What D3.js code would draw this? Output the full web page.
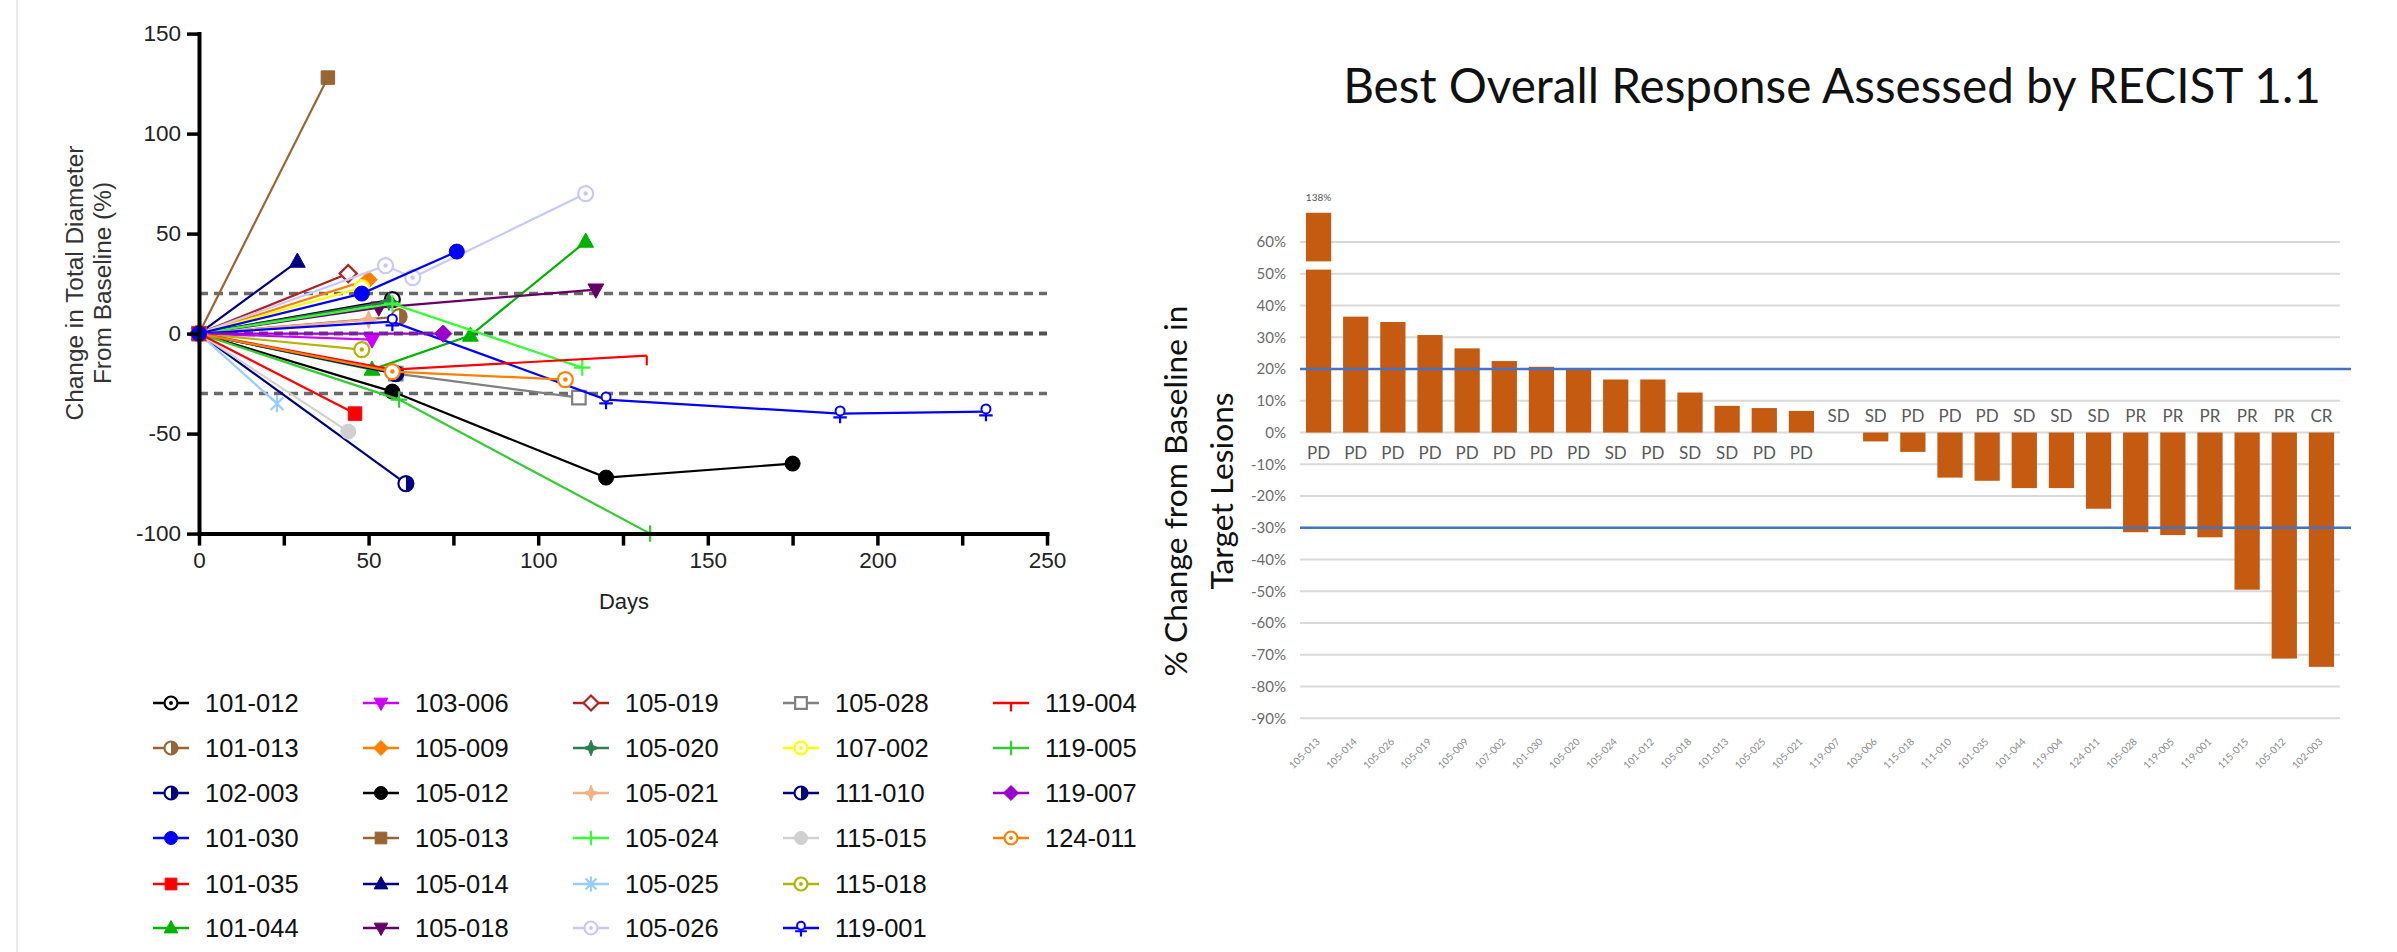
<!DOCTYPE html>
<html><head><meta charset="utf-8">
<script src="https://cdn.jsdelivr.net/npm/d3@7"></script>
<style>body{margin:0;background:#fff;} svg{display:block;}</style>
</head><body>
<svg id="chart" width="2397" height="952"></svg>
<script>
// ---------- Spider plot data: one entry per patient ----------
const patients = ["101-012","101-013","102-003","101-030","101-035","101-044",
  "103-006","105-009","105-012","105-013","105-014","105-018",
  "105-019","105-020","105-021","105-024","105-025","105-026",
  "105-028","107-002","111-010","115-015","115-018","119-001",
  "119-004","119-005","119-007","124-011"];
const patientColors = ["#000000","#996633","#000080","#0000ff","#ff0000","#00b300",
  "#cc00ff","#ff8000","#000000","#996633","#000080","#660066",
  "#b22222","#2e7d4f","#f4b183","#33ff33","#99ccff","#c8c8ff",
  "#808080","#ffff00","#000080","#d0d0d0","#b3b300","#0000ff",
  "#ff0000","#33cc33","#9900cc","#ff8000"];
const patientMarkers = ["circleOpen","circleHalf","circleHalf","circle","square","triangle",
  "triangleDown","diamond","circle","square","triangle","triangleDown",
  "diamondOpen","star4","star4","plus","asterisk","circleOpen",
  "squareOpen","circleOpen","circleHalf","circle","circleOpen","circlePlus",
  "tee","plus","diamond","circleOpen"];
// days on study for each assessment
const patientDays = [
  [0,57],[0,59],[0,61],[0,48,76],[0,46],[0,51,80,114],
  [0,51],[0,50],[0,57,120,175],[0,38],[0,29],[0,53,117],
  [0,44],[0,56],[0,50],[0,57,113],[0,23],[0,55,63,114],
  [0,58,112],[0,48],[0,58],[0,44],[0,48],[0,57,120,189,232],
  [0,57,132],[0,59,133],[0,72],[0,57,108]];
// % change in total diameter from baseline at each assessment
const patientChange = [
  [0,17],[0,8.5],[0,-75],[0,20,41],[0,-40],[0,-18,-1,46],
  [0,-3],[0,27],[0,-29,-72,-65],[0,128],[0,36],[0,13,22],
  [0,30],[0,16],[0,7],[0,15,-17],[0,-35],[0,34,28,70],
  [0,-20,-32],[0,23],[0,-20],[0,-49],[0,-8],[0,6,-33,-40,-39],
  [0,-18,-11],[0,-33,-100],[0,0],[0,-19,-23]];
const dayTicks = [0,25,50,75,100,125,150,175,200,225,250];
const changeTicks = [-100,-50,0,50,100,150];
const spiderRefLines = [20,0,-30];

// ---------- Waterfall data ----------
const bestIds = ["105-013","105-014","105-026","105-019","105-009","107-002","101-030",
  "105-020","105-024","101-012","105-018","101-013","105-025","105-021",
  "119-007","103-006","115-018","111-010","101-035","101-044","119-004",
  "124-011","105-028","119-005","119-001","115-015","105-012","102-003"];
const bestChange = [138,36.5,34.8,30.7,26.5,22.5,20.7,20.0,16.7,16.7,12.6,8.4,7.7,6.8,
  0,-2.8,-6.1,-14.2,-15.2,-17.5,-17.5,-24.0,-31.4,-32.3,-33.0,-49.5,-71.2,-73.8];
const bestResponse = ["PD","PD","PD","PD","PD","PD","PD","PD","SD","PD","SD","SD","PD","PD",
  "SD","SD","PD","PD","PD","SD","SD","SD","PR","PR","PR","PR","PR","CR"];
const pctTicks = [60,50,40,30,20,10,0,-10,-20,-30,-40,-50,-60,-70,-80,-90];
const recistThresholds = [20,-30];
// broken axis for the off-scale bar: values between breakFrom and breakTo are skipped
const breakFrom = 51.3, breakTo = 122.7, breakResume = 53.9;

const svg = d3.select("#chart");
const SANS = "'Liberation Sans', Arial, sans-serif";
const CAL = "Lato, 'Open Sans', sans-serif";

function fitWidth(sel, target) {
  const w = sel.node().getComputedTextLength();
  const fs = parseFloat(sel.attr("font-size"));
  sel.attr("font-size", fs * target / w);
  return fs * target / w;
}

// faint page edge
svg.append("line").attr("x1",17).attr("x2",17).attr("y1",0).attr("y2",952)
  .attr("stroke","#e4e4e4").attr("stroke-width",1.5);

// ================= Spider plot =================
const xL = d3.scaleLinear().domain([0,250]).range([199,1047]);
const yL = d3.scaleLinear().domain([-100,150]).range([533.6,33.6]);

// reference lines
svg.append("g").selectAll("line").data(spiderRefLines).join("line")
  .attr("x1", xL(0)).attr("x2", xL(250))
  .attr("y1", d => yL(d)).attr("y2", d => yL(d))
  .attr("stroke", d => d === 0 ? "#505050" : "#6a6a6a")
  .attr("stroke-width", d => d === 0 ? 4 : 3.5)
  .attr("stroke-dasharray", "9,6");

function markerPath(type, s) {
  const p = d3.path();
  switch (type) {
    case "circle": case "circleOpen": case "circleHalf":
      p.arc(0,0,s,0,2*Math.PI); break;
    case "square": case "squareOpen":
      p.rect(-s*0.9,-s*0.9,s*1.8,s*1.8); break;
    case "triangle":
      p.moveTo(0,-s*1.15); p.lineTo(s*1.05,s*0.75); p.lineTo(-s*1.05,s*0.75); p.closePath(); break;
    case "triangleDown":
      p.moveTo(0,s*1.15); p.lineTo(s*1.05,-s*0.75); p.lineTo(-s*1.05,-s*0.75); p.closePath(); break;
    case "diamond": case "diamondOpen":
      p.moveTo(0,-s*1.15); p.lineTo(s*1.15,0); p.lineTo(0,s*1.15); p.lineTo(-s*1.15,0); p.closePath(); break;
    case "star4": {
      const a = s*1.2, b = s*0.35;
      p.moveTo(0,-a); p.lineTo(b,-b); p.lineTo(a,0); p.lineTo(b,b);
      p.lineTo(0,a); p.lineTo(-b,b); p.lineTo(-a,0); p.lineTo(-b,-b); p.closePath(); break;
    }
    default: break;
  }
  return p.toString();
}

function drawMarker(g, type, color, s) {
  const filled = ["circle","square","triangle","triangleDown","diamond","star4"].includes(type);
  if (type === "plus" || type === "asterisk" || type === "tee" || type === "circlePlus") {
    const p = d3.path();
    if (type === "plus") { p.moveTo(-s*1.1,0); p.lineTo(s*1.1,0); p.moveTo(0,-s*1.1); p.lineTo(0,s*1.1); }
    if (type === "asterisk") {
      const k = s*0.85;
      p.moveTo(-k,-k); p.lineTo(k,k); p.moveTo(-k,k); p.lineTo(k,-k);
      p.moveTo(0,-s*1.15); p.lineTo(0,s*1.15);
    }
    if (type === "tee") { p.moveTo(0,0); p.lineTo(0,s*1.3); }
    if (type === "circlePlus") {
      p.moveTo(-s*0.9,s*0.5); p.lineTo(s*0.9,s*0.5); p.moveTo(0,0); p.lineTo(0,s*1.3);
    }
    g.append("path").attr("d", p.toString()).attr("fill","none")
      .attr("stroke", color).attr("stroke-width", 2.2);
    if (type === "circlePlus") {
      g.append("circle").attr("cy",-s*0.35).attr("r",s*0.6).attr("fill","#fff")
        .attr("stroke",color).attr("stroke-width",2);
    }
    return;
  }
  g.append("path").attr("d", markerPath(type, s))
    .attr("fill", filled ? color : "#fff")
    .attr("stroke", color).attr("stroke-width", filled ? 1 : 2.2);
  if (type === "circleHalf") {
    g.append("path").attr("d", `M0,${-s}A${s},${s} 0 0 1 0,${s}Z`).attr("fill", color);
  }
  if (type === "circleOpen") {
    g.append("circle").attr("r", s*0.3).attr("fill", color);
  }
}

const series = patients.map((id,i) => ({
  id, color: patientColors[i], marker: patientMarkers[i],
  pts: patientDays[i].map((d,j) => [d, patientChange[i][j]])
}));
const drawOrder = series.slice().sort((a,b) =>
  (a.id === "101-030") - (b.id === "101-030") || (a.id === "101-035") - (b.id === "101-035"));

const line = d3.line().x(d => xL(d[0])).y(d => yL(d[1]));
const gData = svg.append("g");
drawOrder.forEach(s => {
  const g = gData.append("g");
  g.append("path").attr("d", line(s.pts)).attr("fill","none")
    .attr("stroke", s.color).attr("stroke-width", 2.2);
  s.pts.forEach(p => {
    const m = g.append("g").attr("transform", `translate(${xL(p[0])},${yL(p[1])})`);
    drawMarker(m, s.marker, s.color, 7.5);
  });
});

// axes
const yAxisL = svg.append("g").attr("transform", `translate(${xL(0)},0)`)
  .call(d3.axisLeft(yL).tickValues(changeTicks).tickSize(12).tickSizeOuter(0).tickPadding(6)
    .tickFormat(d => String(d)));
const xAxisL = svg.append("g").attr("transform", `translate(0,${yL(-100)})`)
  .call(d3.axisBottom(xL).tickValues(dayTicks).tickSize(12).tickSizeOuter(0).tickPadding(6)
    .tickFormat(d => d % 50 === 0 ? String(d) : ""));
[yAxisL, xAxisL].forEach(a => {
  a.select(".domain").attr("stroke","#000").attr("stroke-width",4).attr("stroke-linecap","square");
  a.selectAll(".tick line").attr("stroke","#000").attr("stroke-width",3.5);
  a.selectAll("text").attr("font-family", SANS).attr("font-size", 22.5).attr("fill","#222");
});

svg.append("text").attr("x", 624).attr("y", 609).attr("text-anchor","middle")
  .attr("font-family", SANS).attr("font-size", 22).attr("fill","#222").text("Days");

const yTitle1 = svg.append("text").attr("transform","translate(83,283) rotate(-90)")
  .attr("text-anchor","middle").attr("font-family", SANS).attr("font-size", 20)
  .attr("fill","#333").text("Change in Total Diameter");
const fsL = fitWidth(yTitle1, 275);
svg.append("text").attr("transform","translate(111,283) rotate(-90)")
  .attr("text-anchor","middle").attr("font-family", SANS).attr("font-size", fsL)
  .attr("fill","#333").text("From Baseline (%)");

// legend: 5 columns, 6 rows, column-major
const legendColX = [171, 381, 591, 801, 1011];
const legendRowY = [703, 748, 793, 838, 884, 928];
series.forEach((s,i) => {
  const col = Math.floor(i / 6), row = i % 6;
  const g = svg.append("g").attr("transform", `translate(${legendColX[col]},${legendRowY[row]})`);
  g.append("line").attr("x1",-18).attr("x2",18).attr("stroke", s.color).attr("stroke-width",2.5);
  drawMarker(g, s.marker, s.color, 6.5);
  g.append("text").attr("x", 34).attr("y", 9).attr("font-family", SANS).attr("font-size", 25.5)
    .attr("fill","#111").text(s.id);
});

// ================= Waterfall =================
const xW = d3.scaleBand().domain(bestIds).range([1300, 2340]).paddingInner(0.32).paddingOuter(0.16);
const yW = d3.scaleLinear().domain([-90, 60]).range([718.3, 242]);
const yBroken = v => v <= breakFrom ? yW(v) : yW(v - (breakTo - breakResume));

svg.append("text").attr("x", 1832).attr("y", 103).attr("text-anchor","middle")
  .attr("font-family", CAL).attr("font-size", 40).attr("fill","#111")
  .text("Best Overall Response Assessed by RECIST 1.1")
  .call(sel => fitWidth(sel, 978));

// gridlines
svg.append("g").selectAll("line").data(pctTicks).join("line")
  .attr("x1",1300).attr("x2",2340).attr("y1", d => yW(d)).attr("y2", d => yW(d))
  .attr("stroke","#d9d9d9").attr("stroke-width",2);
svg.append("g").selectAll("text").data(pctTicks).join("text")
  .attr("x",1286).attr("y", d => yW(d)).attr("dy","0.35em").attr("text-anchor","end")
  .attr("font-family", CAL).attr("font-size", 15).attr("fill","#6b6b6b")
  .text(d => d + "%");

// bars
const gBars = svg.append("g");
bestChange.forEach((v,i) => {
  const id = bestIds[i], x = xW(id), w = xW.bandwidth();
  if (v > breakFrom) {
    gBars.append("rect").attr("x",x).attr("width",w)
      .attr("y", yW(breakFrom)).attr("height", yW(0) - yW(breakFrom)).attr("fill","#c55a11");
    gBars.append("rect").attr("x",x).attr("width",w)
      .attr("y", yBroken(v)).attr("height", yBroken(breakTo) - yBroken(v)).attr("fill","#c55a11");
    svg.append("text").attr("x", x + w/2).attr("y", yBroken(v) - 12).attr("text-anchor","middle")
      .attr("font-family", CAL).attr("font-size", 10).attr("fill","#555").text(v + "%");
  } else {
    gBars.append("rect").attr("x",x).attr("width",w)
      .attr("y", yW(Math.max(v,0))).attr("height", Math.abs(yW(v) - yW(0))).attr("fill","#c55a11");
  }
  svg.append("text").attr("x", x + w/2).attr("y", v > 0 ? yW(0) + 21 : yW(0) - 16)
    .attr("dy","0.35em").attr("text-anchor","middle")
    .attr("font-family", CAL).attr("font-size", 17).attr("fill","#595959").text(bestResponse[i]);
  svg.append("text")
    .attr("transform", `translate(${x + w/2 + 2},${yW(-90) + 24}) rotate(-45)`)
    .attr("text-anchor","end").attr("font-family", CAL).attr("font-size", 10)
    .attr("fill","#8a8a8a").text(id);
});

// RECIST thresholds
svg.append("g").selectAll("line").data(recistThresholds).join("line")
  .attr("x1",1300).attr("x2",2351).attr("y1", d => yW(d)).attr("y2", d => yW(d))
  .attr("stroke","#4472c4").attr("stroke-width",2.5);

const wTitle1 = svg.append("text").attr("transform","translate(1187,491) rotate(-90)")
  .attr("text-anchor","middle").attr("font-family", CAL).attr("font-size", 32)
  .attr("fill","#111").text("% Change from Baseline in");
const fsW = fitWidth(wTitle1, 371);
svg.append("text").attr("transform","translate(1233,491) rotate(-90)")
  .attr("text-anchor","middle").attr("font-family", CAL).attr("font-size", fsW)
  .attr("fill","#111").text("Target Lesions");
</script>
</body></html>
